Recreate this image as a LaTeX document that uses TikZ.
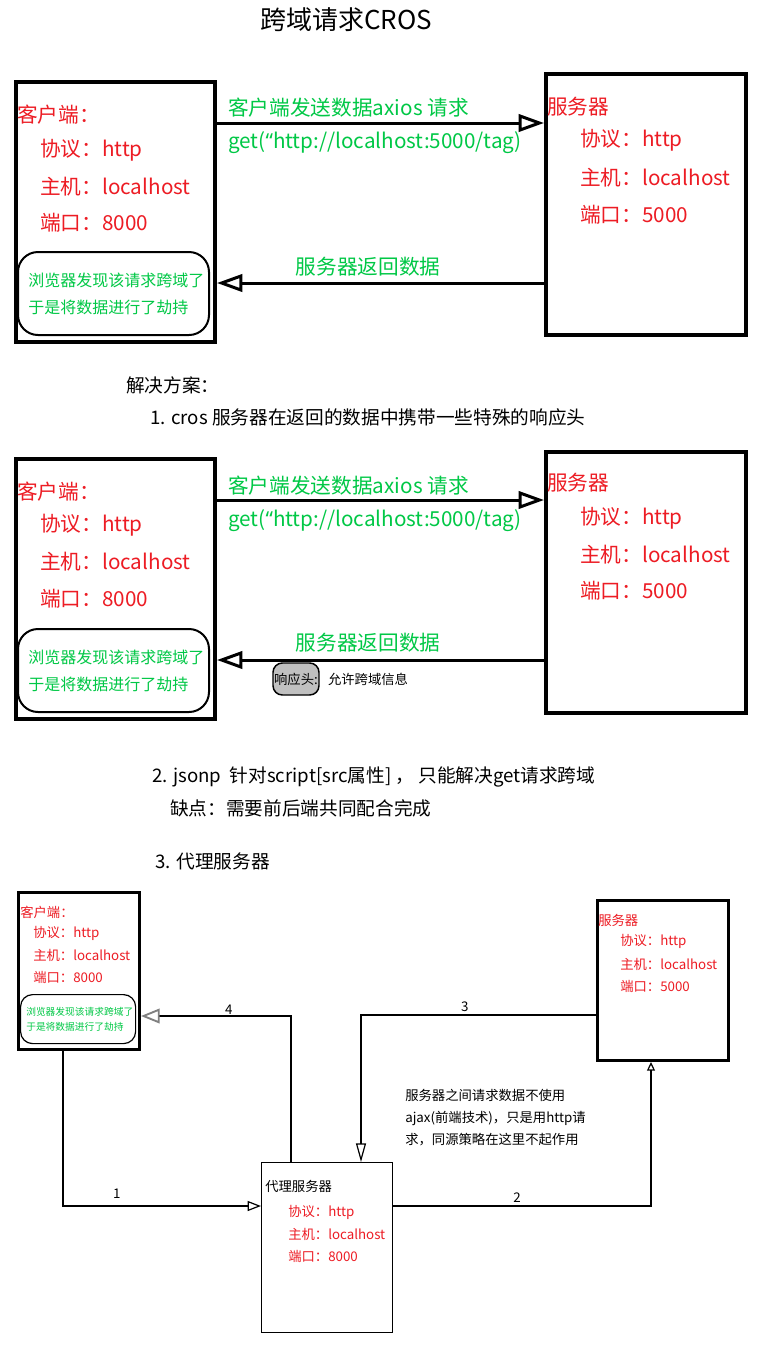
\documentclass[tikz,border=0pt]{standalone}
\usepackage{fontspec}
\setmainfont{Noto Sans CJK SC}
\newfontfamily\quotefont{Noto Sans}
\usetikzlibrary{arrows.meta}
\usetikzlibrary{positioning}
\definecolor{redtxt}{RGB}{237,28,36}
\definecolor{greentxt}{RGB}{0,200,70}
\definecolor{hdrgray}{RGB}{192,192,192}

\tikzset{
  txt/.style={anchor=west, inner sep=0pt},
  bigred/.style={txt, text=redtxt, font=\fontsize{15.5}{18}\selectfont},
  biggreen/.style={txt, text=greentxt, font=\fontsize{15.5}{18}\selectfont},
  warntxt/.style={txt, text=greentxt, font=\fontsize{12}{14}\selectfont},
  plain/.style={txt, font=\fontsize{14}{16}\selectfont},
  smallred/.style={txt, text=redtxt, font=\fontsize{10}{12}\selectfont},
  smallblack/.style={txt, font=\fontsize{10}{12}\selectfont},
  tinygreen/.style={txt, text=greentxt, font=\fontsize{7.3}{9}\selectfont},
  bigbox/.style={draw, line width=3pt, anchor=north west, inner sep=0pt},
  midbox/.style={draw, line width=2.25pt, anchor=north west, inner sep=0pt},
  proxybox/.style={draw, line width=1.1pt, anchor=north west, inner sep=0pt},
  warnbox/.style={draw, line width=1.5pt, rounded corners=15pt, anchor=north west, inner sep=0pt},
  warnsmall/.style={draw, line width=0.9pt, rounded corners=9pt, anchor=north west, inner sep=0pt},
  hdrbox/.style={draw, fill=hdrgray, line width=1.1pt, rounded corners=7pt, minimum width=34.5pt,
    minimum height=24pt, inner sep=0pt, font=\fontsize{10}{12}\selectfont},
  bigarrow/.style={line width=2.25pt, -{Triangle[open, length=19pt, width=13pt]}},
  thinline/.style={line width=0.9pt},
}

\begin{document}
\begin{tikzpicture}[x=0.75pt, y=-0.75pt]
    \path[use as bounding box, fill=white] (0,0) rectangle (757,1350);

    \node[txt, font=\fontsize{19.5}{22}\selectfont] (title) at (260,20) {跨域请求CROS};

    % first request
    \node[bigbox, minimum width=149.25pt, minimum height=195pt] (client1) at (14,80) {};
    \node[bigbox, minimum width=150pt, minimum height=195.75pt] (server1) at (544,72) {};
    \node[warnbox, minimum width=143.25pt, minimum height=62.25pt] (warn1) at (17,251) {};

    \node[bigred] (cname1) at (17,115) {客户端：};
    \node[bigred] (cproto1) at (40,150) {协议：http};
    \node[bigred] (chost1) at (40,187) {主机：localhost};
    \node[bigred] (cport1) at (40,223) {端口：8000};
    \node[warntxt] (wline1a) at (28,280) {浏览器发现该请求跨域了};
    \node[warntxt] (wline1b) at (28,307) {于是将数据进行了劫持};

    \node[bigred] (sname1) at (547,107) {服务器};
    \node[bigred] (sproto1) at (580,140) {协议：http};
    \node[bigred] (shost1) at (580,178) {主机：localhost};
    \node[bigred] (sport1) at (580,215) {端口：5000};

    \draw[bigarrow] (client1.east |- 0,123) -- (server1.west |- 0,123);
    \node[biggreen] (send1) at (228,108) {客户端发送数据axios 请求};
    \node[biggreen] (url1) at (228,143) {get({\quotefont “}http://localhost:5000/tag)};
    \draw[bigarrow] (server1.west |- 0,283) -- (client1.east |- 0,283);
    \node[biggreen, anchor=center] (back1) at (368,267) {服务器返回数据};

    \node[plain] (plan) at (126,385) {解决方案：};
    \node[plain] (cors) at (150,417) {1. cros 服务器在返回的数据中携带一些特殊的响应头};

    % second request, with the header
    \node[bigbox, minimum width=149.25pt, minimum height=195pt] (client2) at (14,457) {};
    \node[bigbox, minimum width=150pt, minimum height=195.75pt] (server2) at (544,450) {};
    \node[warnbox, minimum width=143.25pt, minimum height=62.25pt] (warn2) at (17,628) {};

    \node[bigred] (cname2) at (17,492) {客户端：};
    \node[bigred] (cproto2) at (40,525) {协议：http};
    \node[bigred] (chost2) at (40,562) {主机：localhost};
    \node[bigred] (cport2) at (40,599) {端口：8000};
    \node[warntxt] (wline2a) at (28,657) {浏览器发现该请求跨域了};
    \node[warntxt] (wline2b) at (28,684) {于是将数据进行了劫持};

    \node[bigred] (sname2) at (547,483) {服务器};
    \node[bigred] (sproto2) at (580,518) {协议：http};
    \node[bigred] (shost2) at (580,555) {主机：localhost};
    \node[bigred] (sport2) at (580,591) {端口：5000};

    \draw[bigarrow] (client2.east |- 0,500) -- (server2.west |- 0,500);
    \node[biggreen] (send2) at (228,486) {客户端发送数据axios 请求};
    \node[biggreen] (url2) at (228,521) {get({\quotefont “}http://localhost:5000/tag)};
    \draw[bigarrow] (server2.west |- 0,660) -- (client2.east |- 0,660);
    \node[biggreen, anchor=center] (back2) at (368,643) {服务器返回数据};
    \node[hdrbox] (hdr) at (296,679) {响应头:};
    \node[smallblack, right=6pt of hdr] (hdrtxt) {允许跨域信息};

    \node[plain] (jsonp) at (152,777) {2. jsonp\ \ 针对script[src属性] ， 只能解决get请求跨域};
    \node[plain] (minus) at (170,808) {缺点：需要前后端共同配合完成};
    \node[plain] (proxyhead) at (155,861) {3. 代理服务器};

    % proxy
    \node[midbox, minimum width=90.75pt, minimum height=117.75pt] (client3) at (17,891) {};
    \node[warnsmall, minimum width=86.25pt, minimum height=36.75pt] (warn3) at (20,994) {};
    \node[midbox, minimum width=98.25pt, minimum height=120pt] (server3) at (596,899) {};
    \node[proxybox, minimum width=98.25pt, minimum height=127.5pt] (proxy) at (261,1162) {};

    \node[smallred] (cname3) at (20,912) {客户端：};
    \node[smallred] (cproto3) at (33,933) {协议：http};
    \node[smallred] (chost3) at (33,955) {主机：localhost};
    \node[smallred] (cport3) at (33,977) {端口：8000};
    \node[tinygreen] (wline3a) at (26,1012) {浏览器发现该请求跨域了};
    \node[tinygreen] (wline3b) at (26,1027) {于是将数据进行了劫持};

    \node[smallred] (sname3) at (598,920) {服务器};
    \node[smallred] (sproto3) at (620,941) {协议：http};
    \node[smallred] (shost3) at (620,964) {主机：localhost};
    \node[smallred] (sport3) at (620,986) {端口：5000};

    \node[smallblack] (pname) at (265,1186) {代理服务器};
    \node[smallred] (pproto) at (288,1212) {协议：http};
    \node[smallred] (phost) at (288,1234) {主机：localhost};
    \node[smallred] (pport) at (288,1256) {端口：8000};

    \node[smallblack, align=left, font=\fontsize{10}{16.5}\selectfont] (note) at (405,1118)
        {服务器之间请求数据不使用\\ajax(前端技术)，只是用http请\\求，同源策略在这里不起作用};

    \draw[thinline, -{Triangle[open, length=10pt, width=7.5pt]}] (client3.south -| 63,0) |- (proxy.west |- 0,1206)
        node[smallblack, pos=0.636, above=5pt] {1};
    \draw[thinline, -{Triangle[open, length=6.5pt, width=6pt]}] (proxy.east |- 0,1206) -| (server3.south -| 651,0)
        node[smallblack, pos=0.24, above=2pt] {2};
    \draw[thinline, -{Triangle[open, length=14pt, width=7.5pt]}] (server3.west |- 0,1015) -| (proxy.north -| 361,0)
        node[smallblack, pos=0.279, above=2pt] {3};
    \draw[thinline, -{Triangle[open, length=14pt, width=11pt, color=gray, line width=1.4pt]}] (proxy.north -| 291,0) |- (client3.east |- 0,1016)
        node[smallblack, pos=0.707, above=0.5pt] {4};
\end{tikzpicture}
\end{document}
